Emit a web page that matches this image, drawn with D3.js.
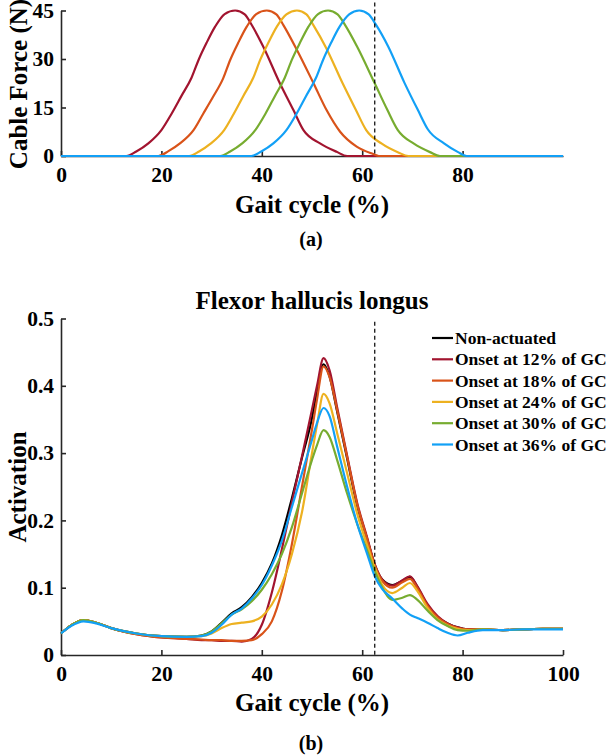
<!DOCTYPE html>
<html><head><meta charset="utf-8">
<script src="https://cdn.jsdelivr.net/npm/d3@7"></script>
<style>body{margin:0;background:#fff}svg{display:block}text{font-family:"Liberation Serif","Times New Roman",serif;font-weight:bold;fill:#000}</style>
</head><body><svg id="c" width="611" height="755"></svg>
<script>
// ---------- DATA ----------
const seriesNames = ["Non-actuated","Onset at 12% of GC","Onset at 18% of GC","Onset at 24% of GC","Onset at 30% of GC","Onset at 36% of GC"];
const seriesColors = ["#000000","#A2142F","#D95319","#EDB120","#77AC30","#12A0F6"];

// (a) cable force (N) vs gait cycle (%)
const forceOnset12 = [[0,0],[13,0],[15,1.4],[17.4,3.9],[20,8],[22,13],[24,18.6],[26,24.2],[27.4,29.7],[29,35],[30.7,40],[32.6,43.9],[34.7,45],[36.6,43.8],[38,40.5],[40.3,33.8],[43.6,22.5],[46.3,14.2],[48.3,8],[51.6,3.9],[54.9,1.3],[57,0],[100,0]];
const forceOnset18 = [[0,0],[19.4,0],[21.4,1.5],[23.7,3.9],[26.4,8],[28.3,13],[30.3,18.3],[32.3,24],[33.7,29.7],[35.3,35],[37,40],[38.9,43.9],[41,45],[42.9,43.8],[44.3,40.5],[47,32.8],[50.3,22.5],[52.9,14.2],[55.6,7.5],[58.9,2.9],[62.2,0.6],[63.3,0],[100,0]];
const forceOnset24 = [[0,0],[25.5,0],[27.5,1.4],[29.8,3.8],[32.5,8],[34.4,13],[36.3,18.5],[38.3,24.2],[39.7,29.8],[41.3,35],[43,40],[44.9,43.8],[47,45],[48.9,43.8],[50.3,40.4],[52.8,33.5],[56.1,22.5],[58.7,14.4],[60.8,8],[63.9,3.8],[67.2,1.1],[69.2,0],[100,0]];
const forceOnset30 = [[0,0],[31.7,0],[33.7,1.4],[36.1,3.9],[38.7,8],[40.7,13],[42.6,18.5],[44.6,24.3],[46,29.8],[47.6,35],[49.3,40],[51.2,43.9],[53.2,45],[55.1,43.8],[56.6,40.5],[59,33.8],[62.4,22.8],[65,14.3],[67.1,8],[70.3,3.8],[73.5,1.2],[75.5,0],[100,0]];
const forceOnset36 = [[0,0],[37.9,0],[39.9,1.4],[42.3,3.9],[44.9,8],[46.9,13],[48.8,18.5],[50.8,24.2],[52.2,29.7],[53.8,35],[55.5,40],[57.4,43.8],[59.4,45],[61.3,43.8],[62.7,40.7],[65.2,33.8],[68.4,22.7],[71.1,14.2],[73.1,8.2],[76.3,3.9],[79.1,1.2],[80.8,0],[100,0]];
const forceXTicks = [0,20,40,60,80];
const forceYTicks = [0,15,30,45];

// (b) Flexor hallucis longus activation
const gaitPct = [0,2,4.5,7,10,15,20,25,28,30,32,34,36,38,40,42,44,46,48,50,51,52.3,53.5,55,57,59,61,62.5,64,66,68,69.5,71,73,75,77,79,81,84,88,92,96,100];
const actNon   = [0.032,0.044,0.052,0.048,0.040,0.032,0.028,0.027,0.029,0.035,0.048,0.062,0.071,0.086,0.107,0.136,0.178,0.233,0.293,0.352,0.392,0.432,0.414,0.362,0.292,0.222,0.172,0.134,0.112,0.104,0.110,0.116,0.101,0.073,0.056,0.047,0.041,0.038,0.038,0.037,0.038,0.039,0.039];
const act12    = [0.032,0.044,0.052,0.048,0.040,0.031,0.026,0.024,0.022,0.022,0.021,0.021,0.020,0.024,0.045,0.093,0.157,0.227,0.295,0.365,0.400,0.441,0.423,0.368,0.296,0.226,0.174,0.135,0.112,0.103,0.111,0.117,0.102,0.076,0.058,0.047,0.041,0.038,0.038,0.037,0.038,0.039,0.039];
const act18    = [0.032,0.044,0.052,0.048,0.040,0.031,0.026,0.024,0.023,0.022,0.022,0.021,0.021,0.022,0.031,0.050,0.095,0.165,0.250,0.335,0.380,0.429,0.413,0.364,0.294,0.224,0.172,0.133,0.110,0.100,0.108,0.113,0.099,0.073,0.056,0.046,0.040,0.038,0.038,0.037,0.038,0.039,0.039];
const act24    = [0.032,0.044,0.052,0.048,0.040,0.032,0.028,0.027,0.028,0.032,0.040,0.046,0.048,0.050,0.057,0.075,0.105,0.150,0.212,0.300,0.342,0.388,0.374,0.330,0.270,0.210,0.163,0.130,0.104,0.092,0.100,0.107,0.095,0.070,0.053,0.044,0.039,0.037,0.038,0.037,0.038,0.039,0.039];
const act30    = [0.032,0.044,0.052,0.048,0.040,0.032,0.028,0.027,0.029,0.035,0.047,0.060,0.068,0.080,0.097,0.120,0.150,0.190,0.240,0.290,0.312,0.334,0.324,0.290,0.240,0.195,0.155,0.125,0.100,0.082,0.085,0.089,0.082,0.066,0.052,0.043,0.037,0.036,0.038,0.037,0.038,0.039,0.039];
const act36    = [0.032,0.043,0.050,0.047,0.040,0.032,0.028,0.027,0.028,0.033,0.045,0.060,0.069,0.084,0.104,0.133,0.170,0.220,0.270,0.320,0.345,0.367,0.355,0.310,0.250,0.195,0.150,0.117,0.098,0.084,0.069,0.060,0.055,0.048,0.040,0.033,0.029,0.033,0.037,0.037,0.038,0.038,0.038];
const actXTicks = [0,20,40,60,80,100];
const actYTicks = [0,0.1,0.2,0.3,0.4,0.5];
const markerPct = 62.5;

// ---------- DRAW ----------
const svg = d3.select("#c");
const axisCol = "#262626";
const L = 61, R = 563;

function styleAxis(g){
  g.select(".domain").attr("stroke",axisCol).attr("stroke-width",1.6);
  g.selectAll(".tick line").attr("stroke",axisCol).attr("stroke-width",1.6);
  g.selectAll(".tick text").style("font-family",'"Liberation Serif",serif').style("font-weight","bold").style("font-size","21.5px").attr("fill","#111");
}

// ----- (a)
const xa = d3.scaleLinear().domain([0,100]).range([L,R]);
const ya = d3.scaleLinear().domain([0,45]).range([156,10.5]);
const gA = svg.append("g");
gA.append("g").attr("transform","translate(0,156)")
  .call(d3.axisBottom(xa).tickValues(forceXTicks).tickFormat(d3.format("d")).tickSizeInner(-5).tickSizeOuter(0).tickPadding(11))
  .call(styleAxis);
gA.append("g").attr("transform",`translate(${L},0)`)
  .call(d3.axisLeft(ya).tickValues(forceYTicks).tickFormat(d3.format("d")).tickSizeInner(-5).tickSizeOuter(0).tickPadding(7))
  .call(styleAxis);
const lineA = d3.line().x(d=>xa(d[0])).y(d=>ya(d[1])).curve(d3.curveMonotoneX);
const forceSeries = [forceOnset12,forceOnset18,forceOnset24,forceOnset30,forceOnset36];
forceSeries.forEach((s,i)=>{
  gA.append("path").datum(s).attr("d",lineA).attr("fill","none")
    .attr("stroke",seriesColors[i+1]).attr("stroke-width",2.2).attr("stroke-linejoin","round");
});
gA.append("line").attr("x1",xa(markerPct)).attr("x2",xa(markerPct)).attr("y1",ya(47.5)).attr("y2",ya(0))
  .attr("stroke","#000").attr("stroke-width",1.2).attr("stroke-dasharray","4,3");
gA.append("text").attr("transform","translate(27,84) rotate(-90)").attr("text-anchor","middle")
  .style("font-size","25px").text("Cable Force (N)");
gA.append("text").attr("x",312).attr("y",213).attr("text-anchor","middle").style("font-size","25px").text("Gait cycle (%)");
gA.append("text").attr("x",311).attr("y",246).attr("text-anchor","middle").style("font-size","20px").text("(a)");

// ----- (b)
const xb = d3.scaleLinear().domain([0,100]).range([L,R]);
const yb = d3.scaleLinear().domain([0,0.5]).range([655,318.5]);
const gB = svg.append("g");
gB.append("g").attr("transform","translate(0,655)")
  .call(d3.axisBottom(xb).tickValues(actXTicks).tickFormat(d3.format("d")).tickSizeInner(-5).tickSizeOuter(0).tickPadding(11))
  .call(styleAxis);
gB.append("g").attr("transform",`translate(${L},0)`)
  .call(d3.axisLeft(yb).tickValues(actYTicks).tickFormat(d=>d===0?"0":d3.format(".1f")(d)).tickSizeInner(-5).tickSizeOuter(0).tickPadding(7))
  .call(styleAxis);
const actSeries = [actNon,act12,act18,act24,act30,act36];
const lineB = d3.line().x(d=>xb(d[0])).y(d=>yb(d[1])).curve(d3.curveMonotoneX);
actSeries.forEach((s,i)=>{
  gB.append("path").datum(gaitPct.map((x,j)=>[x,s[j]])).attr("d",lineB).attr("fill","none")
    .attr("stroke",seriesColors[i]).attr("stroke-width",2.2).attr("stroke-linejoin","round");
});
gB.append("line").attr("x1",xb(markerPct)).attr("x2",xb(markerPct)).attr("y1",yb(0.495)).attr("y2",yb(0))
  .attr("stroke","#000").attr("stroke-width",1.2).attr("stroke-dasharray","4,3");
gB.append("text").attr("x",312).attr("y",309).attr("text-anchor","middle").style("font-size","25px").text("Flexor hallucis longus");
gB.append("text").attr("transform","translate(26,487) rotate(-90)").attr("text-anchor","middle")
  .style("font-size","25px").text("Activation");
gB.append("text").attr("x",312).attr("y",711).attr("text-anchor","middle").style("font-size","25px").text("Gait cycle (%)");
gB.append("text").attr("x",311).attr("y",750).attr("text-anchor","middle").style("font-size","20px").text("(b)");

// legend
const leg = gB.append("g");
seriesNames.forEach((n,i)=>{
  const cy = 338 + i*21.3;
  leg.append("line").attr("x1",432).attr("x2",453).attr("y1",cy).attr("y2",cy)
    .attr("stroke",seriesColors[i]).attr("stroke-width",2.2);
  leg.append("text").attr("x",455).attr("y",cy+6).style("font-size","17.5px").text(n);
});
</script></body></html>
